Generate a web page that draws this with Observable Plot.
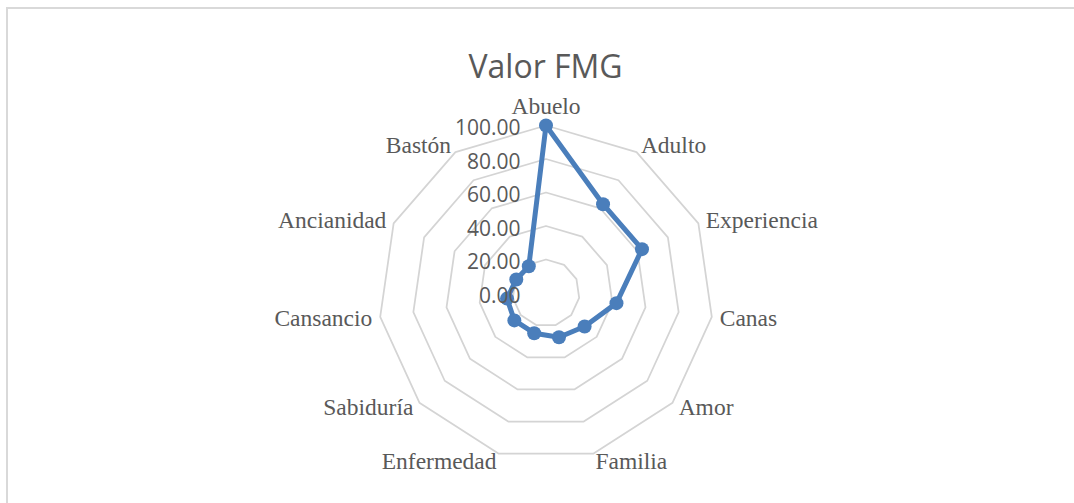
<!DOCTYPE html>
<html><head><meta charset="utf-8">
<script src="https://cdn.jsdelivr.net/npm/d3@7"></script>
<script src="https://cdn.jsdelivr.net/npm/@observablehq/plot@0.6"></script>
<style>
html,body{margin:0;padding:0;background:#fff;}
#wrap{position:relative;width:1074px;height:503px;overflow:hidden;}
#border{position:absolute;left:6px;top:7px;right:-10px;bottom:-10px;border-top:2px solid #d9d9d9;border-left:2px solid #d9d9d9;pointer-events:none;}
svg{display:block}
</style></head><body>
<div id="wrap"><div id="chart"></div><div id="border"></div></div>
<script>
const title = "Valor FMG";
const categories = ["Abuelo","Adulto","Experiencia","Canas","Amor","Familia","Enfermedad","Sabiduría","Cansancio","Ancianidad","Bastón"];
const values = [100, 63, 63, 42.5, 30.5, 27.5, 25, 25, 23.5, 19.5, 19];
const gridTicks = [20, 40, 60, 80, 100];
const axisTicks = [0, 20, 40, 60, 80, 100];

const n = categories.length;
const ang = i => 2 * Math.PI * i / n;
const pts = categories.map((c, i) => ({c, v: values[i], x: values[i] * Math.sin(ang(i)), y: values[i] * Math.cos(ang(i))}));
const rings = gridTicks.flatMap(t => categories.map((c, i) => ({t, x: t * Math.sin(ang(i)), y: t * Math.cos(ang(i))})));

const cx = 545.5, cy = 292.5, R = 167.5;
const gray = "#595959";
const blue = "#4a7ebb";

const labelMarks = categories.map((c, i) => {
  const s = Math.sin(ang(i)), co = Math.cos(ang(i));
  const anchor = s > 0.1 ? "start" : s < -0.1 ? "end" : "middle";
  return Plot.text([c], {
    x: () => 100 * s, y: () => 100 * co, text: d => d,
    textAnchor: anchor,
    dx: 8 * s,
    dy: -8 * co - (anchor === "middle" ? 11.5 * Math.sign(co) : 0),
    fontFamily: "Liberation Serif", fontSize: 23.5, fill: gray
  });
});

const chart = Plot.plot({
  width: 1074, height: 503, margin: 0,
  style: {background: "#fff"},
  x: {domain: [-100, 100], range: [cx - R, cx + R], axis: null},
  y: {domain: [-100, 100], range: [cy + R, cy - R], axis: null},
  marks: [
    Plot.line(rings, {x: "x", y: "y", z: "t", curve: "linear-closed", stroke: "#d4d4d4", strokeWidth: 1.75}),
    Plot.line(pts, {x: "x", y: "y", curve: "linear-closed", stroke: blue, strokeWidth: 5, strokeLinejoin: "round"}),
    Plot.dot(pts, {x: "x", y: "y", r: 7, fill: blue, stroke: "none"}),
    Plot.text(axisTicks, {x: () => 0, y: d => d, text: d => d.toFixed(2), textAnchor: "end", dx: -25.5, dy: 3, fontFamily: "Open Sans", fontSize: 21, fill: gray}),
    ...labelMarks,
    Plot.text([title], {frameAnchor: "top", text: d => d, dx: 8, dy: 55, fontFamily: "Open Sans", fontSize: 32, fill: gray})
  ]
});
document.getElementById("chart").appendChild(chart);
</script>
</body></html>
